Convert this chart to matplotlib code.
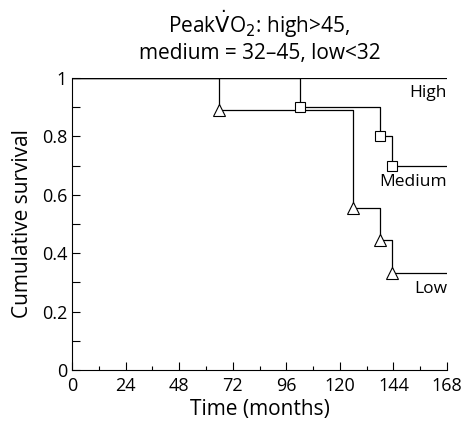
import matplotlib
matplotlib.use('Agg')
import matplotlib.pyplot as plt
from matplotlib.ticker import MultipleLocator

# Kaplan-Meier step data
high_t = [0, 168]
high_s = [1.0, 1.0]

medium_t = [0, 102, 138, 143.5, 168]
medium_s = [1.0, 0.9, 0.8, 0.7, 0.7]

low_t = [0, 66, 126, 138, 143.5, 168]
low_s = [1.0, 0.889, 0.556, 0.444, 0.333, 0.333]

group_names = ['High', 'Medium', 'Low']
ytick_labels = ['0', '0.2', '0.4', '0.6', '0.8', '1']

plt.rcParams['font.family'] = ['Open Sans', 'DejaVu Sans']

fig = plt.figure(figsize=(4.63, 4.23), dpi=100)
ax = fig.add_axes([0.1555, 0.1253, 0.81, 0.6903])

ax.step(high_t, high_s, where='post', color='black', lw=0.9)
ax.step(medium_t, medium_s, where='post', color='black', lw=0.9)
ax.step(low_t, low_s, where='post', color='black', lw=0.9)

# markers at the event points
ax.plot(medium_t[1:-1], medium_s[1:-1], 's', ms=7, mfc='white', mec='black', mew=0.8)
ax.plot(low_t[1:-1], low_s[1:-1], '^', ms=8.5, mfc='white', mec='black', mew=0.8)

ax.text(168, 0.948, group_names[0], ha='right', va='center', fontsize=12.5)
ax.text(168, 0.645, group_names[1], ha='right', va='center', fontsize=12.5)
ax.text(168, 0.278, group_names[2], ha='right', va='center', fontsize=12.5)

ax.set_xlim(0, 168)
ax.set_ylim(0, 1)
ax.xaxis.set_major_locator(MultipleLocator(24))
ax.xaxis.set_minor_locator(MultipleLocator(12))
ax.set_yticks([0, 0.2, 0.4, 0.6, 0.8, 1.0])
ax.set_yticklabels(ytick_labels)
ax.yaxis.set_minor_locator(MultipleLocator(0.1))
ax.tick_params(which='both', direction='in', labelsize=13, width=0.8)
ax.tick_params(which='major', length=6)
ax.tick_params(axis='y', which='minor', length=6)
ax.tick_params(axis='x', which='minor', length=3)
ax.tick_params(axis='x', pad=5)
for s in ['top', 'right']:
    ax.spines[s].set_visible(False)

ax.set_xlabel('Time (months)', fontsize=15, labelpad=3)
ax.set_ylabel('Cumulative survival', fontsize=15, labelpad=6)
ax.set_title('Peak$\\dot{\\mathrm{V}}$O$_2$: high>45,\nmedium = 32\u201345, low<32', fontsize=15, pad=14, linespacing=1.15)

fig.savefig('out.png', dpi=100)
